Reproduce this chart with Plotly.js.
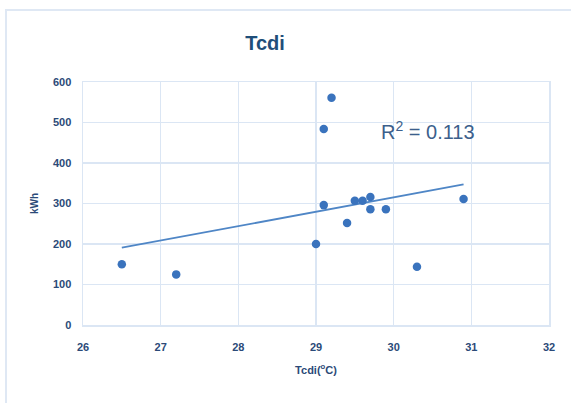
<!DOCTYPE html>
<html>
<head>
<meta charset="utf-8">
<script src="https://cdn.plot.ly/plotly-3.0.1.min.js"></script>
<style>
  html, body { margin: 0; padding: 0; background: #ffffff; }
  #wrap { position: relative; width: 571px; height: 403px; }
  #frame { position: absolute; left: 5px; top: 9px; right: -4px; bottom: -4px;
           border-top: 2px solid #dfe8f4; border-left: 2px solid #dfe8f4; pointer-events: none; }
  #chart { position: absolute; left: 0; top: 0; width: 571px; height: 403px; }
</style>
</head>
<body>
<div id="wrap">
  <div id="chart"></div>
  <div id="frame"></div>
</div>
<script>
// Condenser inlet temperature (°C) vs energy use (kWh)
const tcdi = [26.5, 27.2, 29.0, 29.1, 29.1, 29.2, 29.4, 29.5, 29.6, 29.7, 29.7, 29.9, 30.3, 30.9];
const kwh  = [150, 125, 200, 484, 296, 561, 252, 307, 307, 316, 286, 286, 144, 311];
const r2Label = 'R<sup>2</sup> = 0.113';
const xTicks = [26, 27, 28, 29, 30, 31, 32];
const yTicks = [0, 100, 200, 300, 400, 500, 600];

// Least-squares linear trend over the data range
function linearFit(xs, ys) {
  const n = xs.length;
  const mx = xs.reduce((a, b) => a + b, 0) / n;
  const my = ys.reduce((a, b) => a + b, 0) / n;
  let sxy = 0, sxx = 0;
  for (let i = 0; i < n; i++) { sxy += (xs[i] - mx) * (ys[i] - my); sxx += (xs[i] - mx) ** 2; }
  const slope = sxy / sxx;
  return { slope, intercept: my - slope * mx };
}
const fit = linearFit(tcdi, kwh);
const xMin = Math.min(...tcdi), xMax = Math.max(...tcdi);
const trendX = [xMin, xMax];
const trendY = trendX.map(x => fit.intercept + fit.slope * x);

const navy = '#1f4e79';
const grid = '#dbe6f4';
const fam = 'Liberation Sans Narrow, Arial Narrow, sans-serif';
const tickFont = { family: fam, size: 11, color: '#2b4a78', weight: 'bold' };

const traces = [
  { x: trendX, y: trendY, mode: 'lines', type: 'scatter',
    line: { color: '#4f86c6', width: 1.8 }, hoverinfo: 'skip' },
  { x: tcdi, y: kwh, mode: 'markers', type: 'scatter',
    marker: { color: '#3a73bd', size: 8.5, line: { width: 0 } } }
];

const layout = {
  width: 571, height: 403,
  margin: { l: 83, r: 22, t: 82, b: 78 },
  paper_bgcolor: 'rgba(0,0,0,0)', plot_bgcolor: '#ffffff',
  showlegend: false,
  title: { text: '<b>Tcdi</b>', x: 265 / 571, xanchor: 'center', xref: 'container',
           y: 1 - 43 / 403, yanchor: 'middle', yref: 'container',
           font: { family: fam, size: 20, color: navy } },
  xaxis: {
    range: [26, 32], tickvals: xTicks, ticktext: xTicks.map(String),
    showgrid: true, gridcolor: grid, gridwidth: 1.5,
    showline: true, linecolor: grid, linewidth: 1.5, mirror: true,
    zeroline: false, ticks: '', ticklabelstandoff: 11,
    tickfont: tickFont,
    title: { text: '<b>Tcdi(<sup>o</sup>C)</b>', standoff: 14,
             font: { family: fam, size: 11, color: '#2b4a78' } }
  },
  yaxis: {
    range: [0, 600], tickvals: yTicks, ticktext: yTicks.map(String),
    showgrid: true, gridcolor: grid, gridwidth: 1.5,
    showline: true, linecolor: grid, linewidth: 1.5, mirror: true,
    zeroline: false, ticks: '', ticklabelstandoff: 8,
    tickfont: tickFont,
    title: { text: '<b>kWh</b>', standoff: 12,
             font: { family: fam, size: 10, color: '#2b4a78' } }
  },
  // R² label placed in plot-fraction coordinates
  annotations: [{
    xref: 'paper', yref: 'paper',
    x: (379 - 83) / (549 - 83), y: (325 - 130) / (325 - 82),
    xanchor: 'left', yanchor: 'middle', text: r2Label, showarrow: false,
    font: { family: fam, size: 20, color: '#3c5f8c' }
  }]
};

Plotly.newPlot('chart', traces, layout, { displayModeBar: false, staticPlot: true });
</script>
</body>
</html>
